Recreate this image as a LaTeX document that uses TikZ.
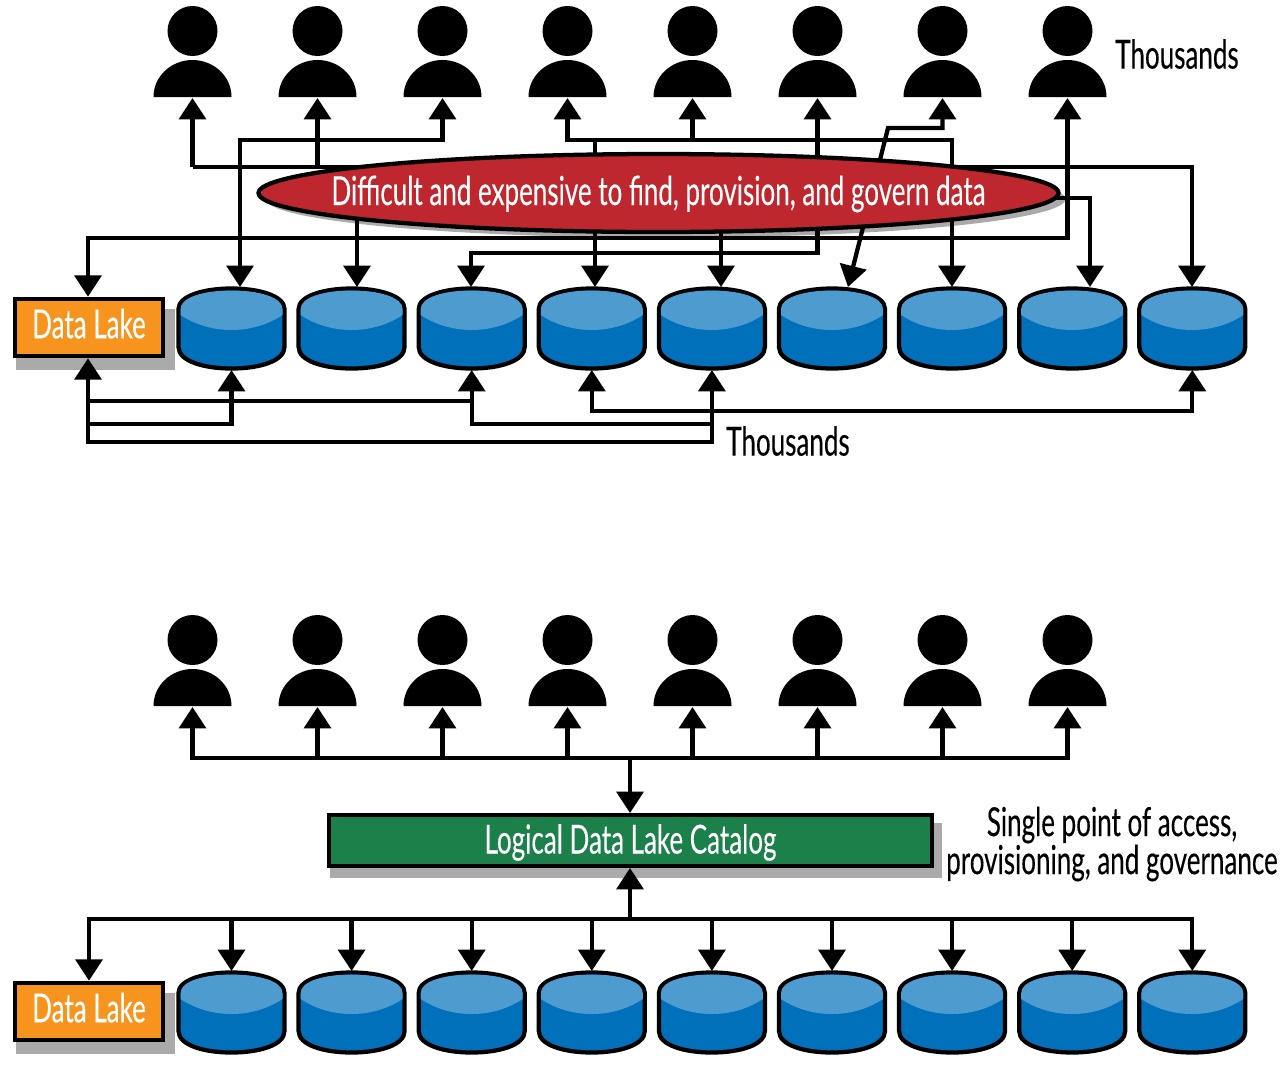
\documentclass[tikz,border=0pt]{standalone}
\usepackage{fontspec}
\setmainfont[FakeStretch=0.65,FakeBold=0.25]{Lato}
\usetikzlibrary{positioning,calc,shapes.geometric,arrows.meta,backgrounds}
\definecolor{lakeorange}{RGB}{247,148,30}
\definecolor{ovalred}{RGB}{190,39,46}
\definecolor{catgreen}{RGB}{27,128,73}
\definecolor{dbdark}{RGB}{0,112,186}
\definecolor{dblight}{RGB}{78,155,207}
\definecolor{dropgray}{RGB}{170,170,170}
\tikzset{
  person/.pic={
    \fill[black] (0,0) circle [radius=18.75pt];
    \fill[black] (-39,66) .. controls (-39,45) and (-21,29) .. (0,29)
      .. controls (21,29) and (39,45) .. (39,66) -- cycle;
    \coordinate (-foot) at (0,67);
  },
  store/.pic={
    \filldraw[fill=dbdark, draw=black, line width=3.2pt]
      (-53,20) .. controls (-53,7) and (-28,-0.5) .. (0,-0.5)
      .. controls (28,-0.5) and (53,7) .. (53,20) -- (53,58)
      .. controls (53,72) and (28,79.5) .. (0,79.5)
      .. controls (-28,79.5) and (-53,72) .. (-53,58) -- cycle;
    \fill[dblight] (-51,26) -- (-51,20) .. controls (-51,8) and (-27,1.5) .. (0,1.5)
      .. controls (27,1.5) and (51,8) .. (51,20) -- (51,26)
      .. controls (36,36) and (18,41) .. (0,41)
      .. controls (-18,41) and (-36,36) .. (-51,26) -- cycle;
    \coordinate (-top) at (0,-2);
    \coordinate (-foot) at (0,81);
  }
}
\begin{document}
\begin{tikzpicture}[
  x=0.75pt, y=-0.75pt,
  >={Triangle[length=16pt,width=20pt]},
  line/.style={line width=3.2pt, draw=black, line cap=rect},
  flow/.style={line width=3.2pt, draw=black, ->},
  twoway/.style={line width=3.2pt, draw=black, <->},
  tag/.style={font=\fontsize{30}{28.5}\selectfont, align=center, inner sep=0pt},
  box/.style={draw=black, line width=3.2pt, inner sep=0pt,
    font=\fontsize{30}{36}\selectfont, text=white},
  lakebox/.style={box, fill=lakeorange, minimum width=111pt, minimum height=43pt, text depth=6pt}
]
  \useasboundingbox (0,0) rectangle (1281,1068);

  % upper picture: users and stores
  \foreach \i [evaluate=\i as \x using 192.5+125*(\i-1)] in {1,...,8}
    \pic (u\i) at (\x,31) {person};
  \foreach \i [evaluate=\i as \x using 231.5+120.1*(\i-1)] in {1,...,9}
    \pic (a\i) at (\x,289) {store};
  \node[lakebox] (lakeA) at (89,327.5) {Data Lake};
  \node[box, ellipse, fill=ovalred, minimum width=600pt, minimum height=58.5pt] (oval) at (658.5,193)
    {\makebox[0pt]{\smash{\raisebox{-0.3em}{Difficult and expensive to find, provision, and govern data}}}};
  \node[tag] (thousandsA) at (1177,54) {Thousands};
  \node[tag] (thousandsB) at (788,441) {Thousands};

  % lower picture
  \foreach \i [evaluate=\i as \x using 192.5+125*(\i-1)] in {1,...,8}
    \pic (v\i) at (\x,640) {person};
  \foreach \i [evaluate=\i as \x using 231.5+120.1*(\i-1)] in {1,...,9}
    \pic (b\i) at (\x,973) {store};
  \node[lakebox] (lakeB) at (89,1011.5) {Data Lake};
  \node[box, fill=catgreen, minimum width=452pt, minimum height=38pt, text height=25pt] (catalog) at (630.5,840.5) {Logical Data Lake Catalog};
  \node[tag] (access) at (1112,844) {Single point of access,\\provisioning, and governance};

  % joints of the tangled routes
  \coordinate (in1) at (240,287);
  \coordinate (in2) at (357,287);
  \coordinate (in3) at (471,287);
  \coordinate (in4) at (595,287);
  \coordinate (in5) at (721,287);
  \coordinate (in6) at (848,287);
  \coordinate (in7) at (952,287);
  \coordinate (in8) at (1090,287);
  \coordinate (in9) at (1192,287);
  \coordinate (busA) at (192.5,167);
  \coordinate (busB) at (240,140);
  \coordinate (busC) at (567.5,140);
  \coordinate (busD) at (471,253);
  \coordinate (busE) at (88,238);
  \coordinate (bend) at (888,128);
  \coordinate (tipR) at (1050,198);
  \coordinate (lowA) at (88,401);
  \coordinate (lowB) at (88,424);
  \coordinate (lowC) at (88,442);
  \coordinate (lowD) at (591.5,411);
  \coordinate (lowE) at (711.7,424);
  \coordinate (topBus) at (630,758);
  \coordinate (lowBus) at (630,919);

  \begin{scope}[on background layer]
    % shadows lie under the lines
    \fill[dropgray] ($(lakeA.south west)+(3,12)$) rectangle ($(lakeA.north east)+(10,12)$);
    \fill[dropgray] ($(lakeB.south west)+(3,12)$) rectangle ($(lakeB.north east)+(10,12)$);
    \fill[dropgray] ($(catalog.south west)+(3,10)$) rectangle ($(catalog.north east)+(8,10)$);
    \fill[dropgray] ($(oval)+(7,6)$) circle [x radius=300pt, y radius=29pt];

    % users to stores
    \draw[flow] (busA) -- (u1-foot);
    \draw[flow] (busA) -| (in9);
    \draw[flow] (u2-foot |- busA) -- (u2-foot);
    \draw[twoway] (u3-foot) |- (busB) -- (in1);
    \draw[twoway] (u4-foot) -- (busC) -| (in7);
    \draw[flow] (in4 |- busC) -- (in4);
    \draw[flow] (u5-foot |- busC) -- (u5-foot);
    \draw[twoway] (u6-foot) |- (busD) -- (in3);
    \draw[twoway] (u7-foot) |- (bend) -- (in6);
    \draw[twoway] (u8-foot) |- (busE) -- (lakeA.north -| busE);
    \draw[flow] (in2 |- oval.center) -- (in2);
    \draw[flow] (in5 |- oval.center) -- (in5);
    \draw[flow] (tipR) -| (in8);

    % stores back to the lake
    \draw[twoway] (lakeA.south -| lowC) -- (lowC) -| (a5-foot);
    \draw[line] (lowA) -- (a3-foot |- lowA);
    \draw[flow] (lowB) -| (a1-foot);
    \draw[flow] (lowE) -| (a3-foot);
    \draw[twoway] (a4-foot) |- (lowD -| a9-foot) -- (a9-foot);

    % everything through the catalog
    \draw[line] (v1-foot |- topBus) -- (v8-foot |- topBus);
    \foreach \i in {1,...,8}
      \draw[flow] (v\i-foot |- topBus) -- (v\i-foot);
    \draw[flow] (topBus) -- (catalog.north -| topBus);
    \draw[line] (lakeB.north |- lowBus) -- (b9-top |- lowBus);
    \draw[flow] (lowBus) -- (catalog.south -| lowBus);
    \draw[flow] (lakeB.north |- lowBus) -- (lakeB.north);
    \foreach \i in {1,...,9}
      \draw[flow] (b\i-top |- lowBus) -- (b\i-top);
  \end{scope}
\end{tikzpicture}
\end{document}
